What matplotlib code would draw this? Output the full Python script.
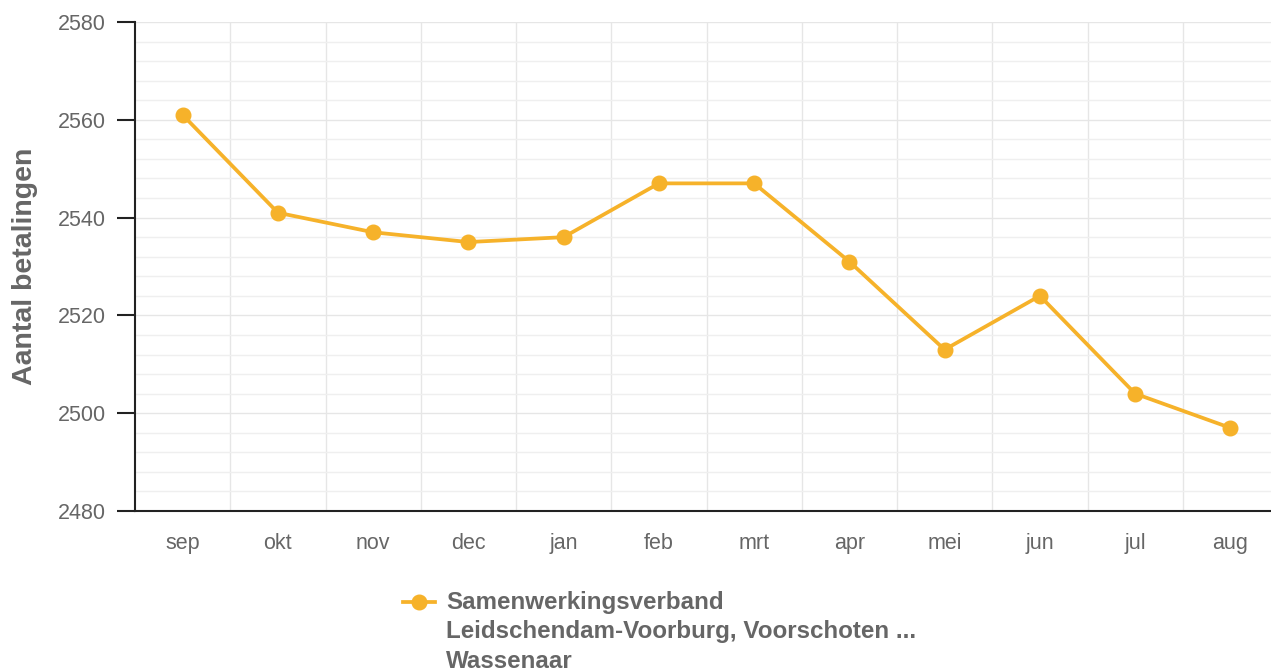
import matplotlib
matplotlib.use("Agg")
import matplotlib.pyplot as plt
from matplotlib.lines import Line2D
from matplotlib.ticker import MultipleLocator

plt.rcParams['font.family'] = ['Liberation Sans', 'DejaVu Sans']

maanden = ['sep', 'okt', 'nov', 'dec', 'jan', 'feb', 'mrt', 'apr', 'mei', 'jun', 'jul', 'aug']
betalingen = [2561, 2541, 2537, 2535, 2536, 2547, 2547, 2531, 2513, 2524, 2504, 2497]
reeks_regels = ["Samenwerkingsverband", "Leidschendam-Voorburg, Voorschoten ...", "Wassenaar"]

oranje = '#f6b22a'
grijs = '#666666'

fig = plt.figure(figsize=(12.71, 6.70), dpi=100)
ax = fig.add_axes([135 / 1271, (670 - 511) / 670, (1278 - 135) / 1271, (511 - 22) / 670])

x = list(range(len(maanden)))
ax.plot(x, betalingen, color=oranje, lw=2.7, marker='o', ms=10.5, zorder=3, clip_on=False)

ax.set_xlim(-0.5, len(maanden) - 0.5)
ax.set_ylim(2480, 2580)
ax.set_xticks(x)
ax.set_xticklabels(maanden)
ax.yaxis.set_major_locator(MultipleLocator(20))
ax.yaxis.set_minor_locator(MultipleLocator(4))
ax.set_xticks([i + 0.5 for i in x[:-1]], minor=True)

ax.grid(which='major', axis='y', color='#e6e6e6', lw=1)
ax.grid(which='minor', axis='y', color='#efefef', lw=1)
ax.grid(which='minor', axis='x', color='#e6e6e6', lw=1)
ax.set_axisbelow(True)

for s in ['top', 'right']:
    ax.spines[s].set_visible(False)
for s in ['left', 'bottom']:
    ax.spines[s].set_color('#222222')
    ax.spines[s].set_linewidth(1.5)

ax.tick_params(axis='y', which='major', length=13, width=1.5, color='#222222',
               labelsize=15.5, labelcolor=grijs, pad=8)
ax.tick_params(axis='y', which='minor', length=0)
ax.tick_params(axis='x', which='both', length=0, labelsize=15.5, labelcolor=grijs, pad=16)

ax.set_ylabel("Aantal betalingen", fontsize=20.5, fontweight='bold', color=grijs, labelpad=14)

# legenda
ly = 1 - 602 / 670
fig.add_artist(Line2D([403 / 1271, 435 / 1271], [ly, ly], transform=fig.transFigure,
                      color=oranje, lw=2.7))
fig.add_artist(Line2D([419 / 1271], [ly], transform=fig.transFigure,
                      color=oranje, marker='o', ms=10.5, lw=0))
for i, regel in enumerate(reeks_regels):
    fig.text(446 / 1271, 1 - (602 + 29.5 * i) / 670, regel, fontsize=17.4, fontweight='bold',
             color=grijs, va='center', ha='left')

fig.savefig('out.png', dpi=100)
